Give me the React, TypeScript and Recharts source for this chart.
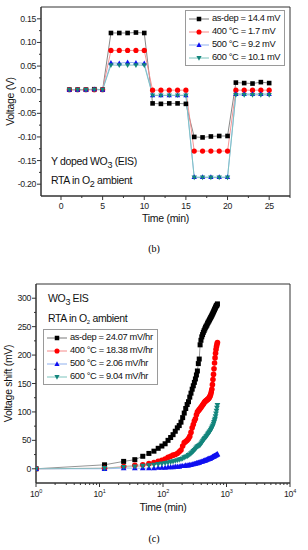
import React from 'react';
import { LineChart, Line, XAxis, YAxis, Legend, ReferenceArea } from 'recharts';

const FONT = '"Liberation Sans", Arial, Helvetica, sans-serif';

// ---- (b) step response, Y doped WO3 EIS
const stepTime = [1, 2, 3, 4, 5, 6, 7, 8, 9, 10, 11, 12, 13, 14, 15, 16, 17, 18, 19, 20, 21, 22, 23, 24, 25];
const stepAsDep = [0, 0, 0, 0.001, 0, 0.12, 0.12, 0.12, 0.121, 0.12, -0.029, -0.03, -0.029, -0.029, -0.03, -0.1, -0.101, -0.099, -0.098, -0.098, 0.015, 0.014, 0.013, 0.016, 0.014];
const step400 = [0, 0, 0, 0, 0, 0.083, 0.083, 0.083, 0.083, 0.083, -0.001, -0.001, -0.001, -0.001, -0.001, -0.13, -0.13, -0.13, -0.13, -0.13, -0.001, -0.001, -0.001, -0.001, -0.001];
const step500 = [0, 0, 0, 0.001, 0, 0.057, 0.056, 0.058, 0.057, 0.056, -0.012, -0.012, -0.012, -0.012, -0.012, -0.185, -0.185, -0.185, -0.185, -0.185, -0.009, -0.009, -0.009, -0.009, -0.009];
const step600 = [0, 0, 0, 0, 0, 0.052, 0.052, 0.052, 0.052, 0.052, -0.012, -0.012, -0.012, -0.012, -0.012, -0.186, -0.186, -0.186, -0.186, -0.186, -0.011, -0.011, -0.011, -0.011, -0.011];
const stepLabels = ['as-dep = 14.4 mV', '400 °C = 1.7 mV', '500 °C = 9.2 mV', '600 °C = 10.1 mV'];
const stepYTicks = [-0.2, -0.15, -0.1, -0.05, 0, 0.05, 0.1, 0.15];
const stepXTicks = [0, 5, 10, 15, 20, 25];

// ---- (c) drift, WO3 EIS
const driftTime = [
  1, 12, 24, 36, 48, 60, 72, 84, 96, 108,
  120, 132, 144, 156, 168, 180, 192, 204, 216, 228,
  240, 252, 264, 276, 288, 300, 312, 324, 336, 348,
  360, 372, 384, 396, 408, 420, 432, 444, 456, 468,
  480, 492, 504, 516, 528, 540, 552, 564, 576, 588,
  600, 612, 624, 636, 648, 660, 672, 684, 696, 708,
  720,
];
const driftAsDep = [
  0, 7, 13, 16, 22, 27, 31, 36, 40, 44,
  50, 55, 60, 66, 72, 76, 82, 90, 98, 106,
  113, 118, 126, 133, 140, 146, 152, 158, 165, 172,
  185, 193, 218, 226, 232, 236, 240, 243, 246, 249,
  251, 253, 256, 258, 260, 262, 264, 266, 268, 270,
  272, 274, 276, 278, 280, 282, 284, 286, 287, 288,
  290,
];
const drift400 = [
  0, 1, 4, 6, 7, 9, 11, 13, 15, 17,
  20, 22, 24, 25, 27, 30, 33, 40, 46, 48,
  50, 53, 57, 64, 72, 78, 84, 88, 95, 100,
  102, 104, 106, 108, 110, 112, 114, 116, 118, 119,
  120, 121, 122, 123, 124, 126, 128, 131, 135, 140,
  148, 157, 166, 176, 186, 195, 203, 210, 215, 219,
  222,
];
const drift500 = [
  0, 0, 1, 1, 1, 1, 1, 2, 2, 2,
  3, 3, 3, 4, 4, 4, 5, 5, 5, 6,
  6, 6, 7, 7, 8, 8, 9, 9, 10, 10,
  11, 11, 12, 12, 13, 13, 14, 14, 15, 15,
  16, 16, 17, 17, 18, 18, 18, 19, 19, 20,
  21, 21, 22, 22, 23, 23, 24, 24, 25, 25,
  26,
];
const drift600 = [
  0, 1, 3, 4, 5, 6, 7, 8, 9, 10,
  11, 12, 13, 14, 15, 16, 17, 18, 20, 21,
  22, 24, 25, 27, 29, 31, 33, 35, 37, 39,
  40, 41, 42, 44, 46, 48, 50, 52, 54, 55,
  57, 58, 60, 62, 63, 65, 66, 68, 70, 72,
  74, 76, 79, 82, 85, 88, 92, 97, 102, 107,
  112,
];
const driftLabels = ['as-dep = 24.07 mV/hr', '400 °C = 18.38 mV/hr', '500 °C = 2.06 mV/hr', '600 °C = 9.04 mV/hr'];
const driftYTicks = [0, 50, 100, 150, 200, 250, 300];
const driftXTicks = [1, 10, 100, 1000, 10000];

const stepData = stepTime.map((t, i) => ({ t, a: stepAsDep[i], b: step400[i], c: step500[i], d: step600[i] }));
const driftData = driftTime.map((t, i) => ({ t, a: driftAsDep[i], b: drift400[i], c: drift500[i], d: drift600[i] }));

type Shape = 'square' | 'circle' | 'up' | 'down';
const seriesStyle: { key: string; shape: Shape; color: string; line: string }[] = [
  { key: 'a', shape: 'square', color: '#000', line: '#7a7a7a' },
  { key: 'b', shape: 'circle', color: '#f00', line: '#f58a8a' },
  { key: 'c', shape: 'up', color: '#1010f0', line: '#8fb0ee' },
  { key: 'd', shape: 'down', color: '#13857c', line: '#7cc4bd' },
];

const Marker = ({ cx, cy, shape, fill, size }: any) => {
  if (cx == null || cy == null) return null;
  const s = size / 2;
  if (shape === 'square') return <rect x={cx - s} y={cy - s} width={size} height={size} fill={fill} />;
  if (shape === 'circle') return <circle cx={cx} cy={cy} r={s + 0.3} fill={fill} />;
  if (shape === 'up')
    return <path d={`M${cx},${cy - s * 1.2}L${cx + s * 1.15},${cy + s * 0.85}L${cx - s * 1.15},${cy + s * 0.85}Z`} fill={fill} />;
  return <path d={`M${cx},${cy + s * 1.2}L${cx + s * 1.15},${cy - s * 0.85}L${cx - s * 1.15},${cy - s * 0.85}Z`} fill={fill} />;
};

const LegendBox = ({ labels, size }: { labels: string[]; size: number }) => (
  <div
    style={{
      border: '1px solid #9a9a9a',
      background: '#fff',
      padding: '1px 4px 1px 2px',
      fontFamily: FONT,
      fontSize: 9.3,
      letterSpacing: -0.35,
      lineHeight: '13px',
      color: '#111',
    }}
  >
    {labels.map((lab, i) => (
      <div key={lab} style={{ display: 'flex', alignItems: 'center', whiteSpace: 'nowrap' }}>
        <svg width={22} height={10} style={{ display: 'block' }}>
          <line x1={1} y1={5} x2={21} y2={5} stroke={seriesStyle[i].line} />
          <Marker cx={11} cy={5} shape={seriesStyle[i].shape} fill={seriesStyle[i].color} size={size} />
        </svg>
        <span style={{ marginLeft: 2 }}>{lab}</span>
      </div>
    ))}
  </div>
);

// tick drawn by hand so minor ticks can be shorter and unlabeled
const LeftTick = (isMajor: (v: number) => boolean, fmt: (v: number) => string) => (props: any) => {
  const { x, y, payload } = props;
  const major = isMajor(payload.value);
  return (
    <g>
      <line x1={x} y1={y} x2={x - (major ? 4 : 2)} y2={y} stroke="#333" />
      {major && (
        <text x={x - 5} y={y} dy={3} textAnchor="end" fontSize={8.7} fill="#222" fontFamily={FONT} letterSpacing={-0.3}>
          {fmt(payload.value)}
        </text>
      )}
    </g>
  );
};

const BottomTick = (isMajor: (v: number) => boolean, fmt: (v: number) => React.ReactNode, dy: number) => (props: any) => {
  const { x, y, payload } = props;
  const major = isMajor(payload.value);
  return (
    <g>
      <line x1={x} y1={y} x2={x} y2={y + (major ? 4 : 2)} stroke="#333" />
      {major && (
        <text x={x} y={y + dy} textAnchor="middle" fontSize={8.7} fill="#222" fontFamily={FONT} letterSpacing={-0.3}>
          {fmt(payload.value)}
        </text>
      )}
    </g>
  );
};

const near = (a: number, b: number) => Math.abs(a - b) < 1e-9;

const stepYAll = [...stepYTicks, ...stepYTicks.slice(0, -1).map((v) => v + 0.025)];
const stepXAll = [...stepXTicks, ...stepXTicks.map((v) => v + 2.5)];
const driftYAll = [...driftYTicks, ...driftYTicks.slice(0, -1).map((v) => v + 25)];
const driftXAll = [
  ...driftXTicks,
  ...driftXTicks.slice(0, -1).flatMap((d) => [2, 3, 4, 5, 6, 7, 8, 9].map((m) => m * d)),
];

const stepDomainX: [number, number] = [-2.4, 27.5];
const stepDomainY: [number, number] = [-0.225, 0.175];
const driftDomainX: [number, number] = [1, 10000];
const driftDomainY: [number, number] = [-25, 325];

const axisLabelStyle = { fontFamily: FONT, fontSize: 10.5, fill: '#111', letterSpacing: -0.3 };

export default function App() {
  return (
    <div style={{ position: 'absolute', left: 0, top: 0, width: 308, height: 550, background: '#fff', fontFamily: FONT }}>
      {/* (b) */}
      <div style={{ position: 'absolute', left: 0, top: 0 }}>
        <LineChart width={308} height={232} data={stepData} margin={{ top: 7, right: 18, bottom: 10, left: 0 }}>
          <XAxis
            dataKey="t"
            type="number"
            domain={stepDomainX}
            ticks={stepXAll}
            interval={0}
            allowDataOverflow
            height={26}
            tickSize={0}
            tickMargin={0}
            stroke="#333"
            tick={BottomTick((v) => stepXTicks.some((m) => near(m, v)), (v) => String(v), 13)}
            label={{ value: 'Time (min)', position: 'insideBottom', offset: 0, style: axisLabelStyle }}
          />
          <YAxis
            type="number"
            domain={stepDomainY}
            ticks={stepYAll}
            interval={0}
            allowDataOverflow
            width={41}
            tickSize={0}
            tickMargin={0}
            stroke="#333"
            tick={LeftTick((v) => stepYTicks.some((m) => near(m, v)), (v) => v.toFixed(2))}
            label={{ value: 'Voltage (V)', angle: -90, position: 'insideLeft', offset: 10, style: { ...axisLabelStyle, textAnchor: 'middle' } }}
          />
          <ReferenceArea
            x1={stepDomainX[0]}
            x2={stepDomainX[1]}
            y1={stepDomainY[0]}
            y2={stepDomainY[1]}
            fill="none"
            stroke="#333"
            ifOverflow="visible"
          />
          {seriesStyle.map((s) => (
            <Line
              key={s.key}
              dataKey={s.key}
              type="linear"
              stroke={s.line}
              strokeWidth={0.9}
              isAnimationActive={false}
              activeDot={false}
              dot={(p: any) => <Marker key={p.index} cx={p.cx} cy={p.cy} shape={s.shape} fill={s.color} size={4.6} />}
            />
          ))}
          <Legend
            layout="vertical"
            align="center"
            verticalAlign="middle"
            wrapperStyle={{ left: 185, top: 10 }}
            content={() => <LegendBox labels={stepLabels} size={4.5} />}
          />
        </LineChart>
        <div style={{ position: 'absolute', left: 51, top: 154, fontSize: 10.5, letterSpacing: -0.35, color: '#111', lineHeight: '15px', whiteSpace: 'nowrap' }}>
          <div>
            Y doped WO<sub style={{ fontSize: 9, verticalAlign: -3 }}>3</sub> (EIS)
          </div>
          <div>
            RTA in O<sub style={{ fontSize: 9, verticalAlign: -3 }}>2</sub> ambient
          </div>
        </div>
      </div>
      <div style={{ position: 'absolute', left: 0, top: 243, width: 308, textAlign: 'center', fontFamily: '"Liberation Serif", serif', fontSize: 10 }}>
        (b)
      </div>

      {/* (c) */}
      <div style={{ position: 'absolute', left: 0, top: 270 }}>
        <LineChart width={308} height={250} data={driftData} margin={{ top: 14, right: 18, bottom: 7, left: 0 }}>
          <XAxis
            dataKey="t"
            type="number"
            scale="log"
            domain={driftDomainX}
            ticks={driftXAll}
            interval={0}
            allowDataOverflow
            height={30}
            tickSize={0}
            tickMargin={0}
            stroke="#333"
            tick={BottomTick(
              (v) => driftXTicks.some((m) => near(m, v)),
              (v) => (
                <>
                  10
                  <tspan dy={-4} fontSize={5.5}>
                    {Math.round(Math.log10(v))}
                  </tspan>
                </>
              ),
              14,
            )}
            label={{ value: 'Time (min)', position: 'insideBottom', offset: 2, style: axisLabelStyle }}
          />
          <YAxis
            type="number"
            domain={driftDomainY}
            ticks={driftYAll}
            interval={0}
            allowDataOverflow
            width={36}
            tickSize={0}
            tickMargin={0}
            stroke="#333"
            tick={LeftTick((v) => driftYTicks.some((m) => near(m, v)), (v) => String(v))}
            label={{ value: 'Voltage shift (mV)', angle: -90, position: 'insideLeft', offset: 8, style: { ...axisLabelStyle, textAnchor: 'middle' } }}
          />
          <ReferenceArea
            x1={driftDomainX[0]}
            x2={driftDomainX[1]}
            y1={driftDomainY[0]}
            y2={driftDomainY[1]}
            fill="none"
            stroke="#333"
            ifOverflow="visible"
          />
          {seriesStyle.map((s) => (
            <Line
              key={s.key}
              dataKey={s.key}
              type="linear"
              stroke={s.line}
              strokeWidth={0.8}
              isAnimationActive={false}
              activeDot={false}
              dot={(p: any) => <Marker key={p.index} cx={p.cx} cy={p.cy} shape={s.shape} fill={s.color} size={5} />}
            />
          ))}
          <Legend
            layout="vertical"
            align="center"
            verticalAlign="middle"
            wrapperStyle={{ left: 43, top: 59 }}
            content={() => <LegendBox labels={driftLabels} size={4.5} />}
          />
        </LineChart>
        <div style={{ position: 'absolute', left: 48, top: 20, fontSize: 10.5, letterSpacing: -0.35, color: '#111', lineHeight: '16px', whiteSpace: 'nowrap' }}>
          <div>
            WO<sub style={{ fontSize: 9, verticalAlign: -3 }}>3</sub> EIS
          </div>
          <div>
            RTA in O<sub style={{ fontSize: 6, verticalAlign: -2 }}>2</sub> ambient
          </div>
        </div>
      </div>
      <div style={{ position: 'absolute', left: 0, top: 533, width: 308, textAlign: 'center', fontFamily: '"Liberation Serif", serif', fontSize: 10 }}>
        (c)
      </div>
    </div>
  );
}
